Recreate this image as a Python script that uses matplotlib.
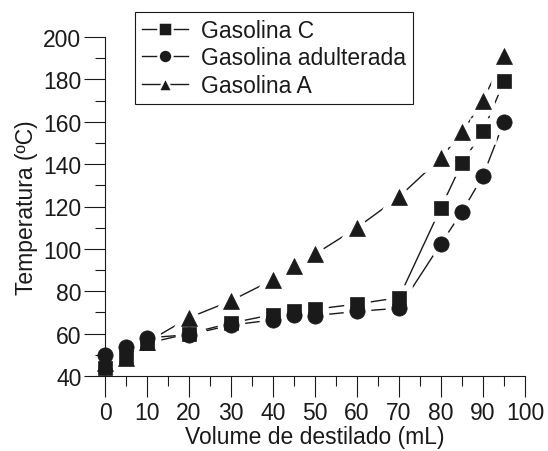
import matplotlib
matplotlib.use('Agg')
import matplotlib.pyplot as plt
from matplotlib.lines import Line2D
from matplotlib.ticker import MultipleLocator

plt.rcParams['font.family'] = ['Liberation Sans', 'DejaVu Sans']
plt.rcParams['font.size'] = 16.5

volume = [0, 5, 10, 20, 30, 40, 45, 50, 60, 70, 80, 85, 90, 95]
gasolina_c = [44, 49, 55.5, 60, 65, 69, 70.5, 71.5, 74, 77, 119.5, 140.5, 155.5, 179]
gasolina_adulterada = [50, 53.5, 58, 59.5, 64, 66.5, 69, 68.5, 70.5, 72, 102.5, 117.5, 134.5, 160]
gasolina_a = [46, 48.5, 56, 67.5, 75.5, 85.5, 92, 97.5, 110, 124.5, 143, 155, 170, 191]

series = [
    ('Gasolina C', gasolina_c, 's', 10),
    ('Gasolina adulterada', gasolina_adulterada, 'o', 11),
    ('Gasolina A', gasolina_a, '^', 11),
]

ink = '#1a1a1a'

fig = plt.figure(figsize=(5.48, 4.52), dpi=100)
ax = fig.add_axes([105 / 548, 1 - 377 / 452, 420 / 548, 339 / 452])
ax.set_axisbelow(False)

handles = []
for label, temp, marker, ms in series:
    # connecting line, then a white halo to cut gaps, then the solid marker
    ax.plot(volume, temp, color=ink, lw=1.0, zorder=1, clip_on=False)
    ax.plot(volume, temp, ls='none', marker=marker, ms=ms, mfc='white',
            mec='white', mew=9, zorder=2, clip_on=False)
    ax.plot(volume, temp, ls='none', marker=marker, ms=ms, mfc=ink,
            mec=ink, mew=0.5, zorder=3, clip_on=False)
    handles.append(Line2D([], [], color=ink, lw=1.0, marker=marker, ms=10,
                          mfc=ink, mec='white', mew=1.8, label=label))

ax.set_xlim(0, 100)
ax.set_ylim(40, 200)
ax.xaxis.set_major_locator(MultipleLocator(10))
ax.xaxis.set_minor_locator(MultipleLocator(5))
ax.yaxis.set_major_locator(MultipleLocator(20))
ax.yaxis.set_minor_locator(MultipleLocator(10))

for side in ['top', 'right']:
    ax.spines[side].set_visible(False)
for side in ['left', 'bottom']:
    ax.spines[side].set_color(ink)
    ax.spines[side].set_linewidth(0.8)

ax.tick_params(which='major', direction='out', length=15, width=0.8, color=ink,
               labelcolor=ink)
ax.tick_params(which='minor', direction='out', length=7.5, width=0.8, color=ink)
ax.tick_params(axis='y', which='major', pad=2)
ax.tick_params(axis='x', which='major', pad=3)

ax.set_xlabel('Volume de destilado (mL)', color=ink, labelpad=1)
ax.set_ylabel('Temperatura (ºC)', color=ink, labelpad=4)

leg = fig.legend(handles=handles, loc='upper left',
                 bbox_to_anchor=(135 / 548, 1 - 13 / 452), borderaxespad=0,
                 handlelength=2.0, handletextpad=0.6, labelspacing=0.2,
                 borderpad=0.3, numpoints=1, fancybox=False, framealpha=1,
                 edgecolor=ink, labelcolor=ink)
leg.get_frame().set_linewidth(0.8)

fig.savefig('out.png', dpi=100)
